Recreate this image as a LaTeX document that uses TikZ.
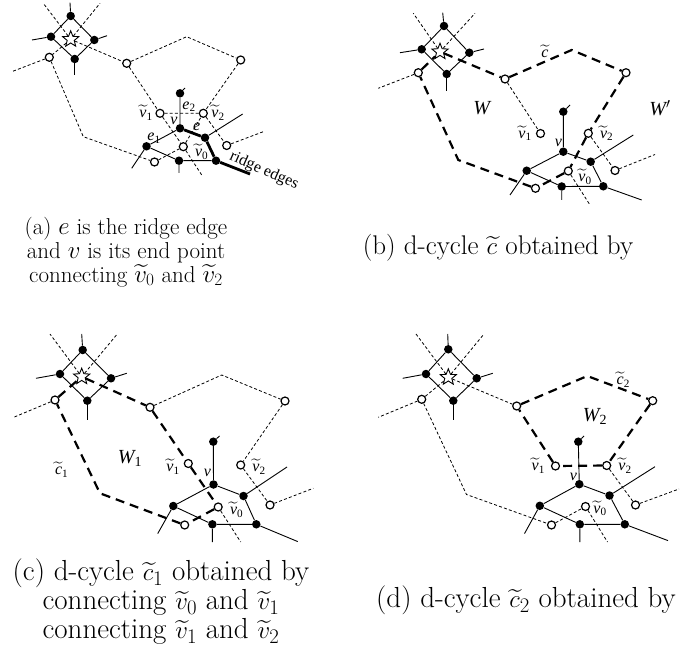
\documentclass[tikz,border=0pt]{standalone}
\usepackage{amsmath}
\usepackage{fontspec}
\newfontfamily\tms{Liberation Serif}
\usetikzlibrary{shapes.geometric}
\tikzset{
  dot/.style={circle,fill=black,inner sep=0pt,minimum size=8.5pt},
  hole/.style={circle,draw,fill=white,line width=1.2pt,inner sep=0pt,minimum size=8pt},
  sun/.style={star,star points=5,star point ratio=2.3,draw,fill=white,line width=0.9pt,inner sep=0pt,minimum size=17pt},
  edg/.style={line width=0.9pt},
  dual/.style={line width=0.8pt,dash pattern=on 3pt off 2.2pt},
  cyc/.style={line width=2.2pt,dash pattern=on 9pt off 6pt},
  ridge/.style={line width=2.8pt},
  lab/.style={inner sep=0pt,font=\tms\fontsize{16}{16}\selectfont},
  wlab/.style={inner sep=0pt,font=\tms\fontsize{20}{20}\selectfont},
  captxt/.style={align=center,font=\fontsize{#1}{#1}\selectfont}
}
\newcommand{\tv}[1]{$\widetilde{\text{\itshape v}}_{\text{#1}}$}
% primal edges shared by all four panels
\newcommand{\primal}[1]{%
  \draw[edg] (#1-dT)--(#1-dL)--(#1-dB)--(#1-dR)--(#1-dT);
  \foreach \k in {T,L,R,B} \draw[edg] (#1-d\k)--(#1-s\k);
  \draw[edg] (#1-tp)--(#1-tpx) (#1-tp)--(#1-v)--(#1-e1)--(#1-e1x)
    (#1-e1)--(#1-bm)--(#1-br)--(#1-brx) (#1-bm)--(#1-bmx)
    (#1-v)--(#1-rt)--(#1-br) (#1-rt)--(#1-rtx);}
\newcommand{\dualends}[1]{%
  \draw[dual] (#1-S)--(#1-fA) (#1-S)--(#1-fB) (#1-o1)--(#1-fC)
    (#1-w2)--(#1-o7)--(#1-fD) (#1-w0)--(#1-fE);}

\begin{document}
\begin{tikzpicture}[x=1pt,y=-1pt]
\useasboundingbox (0,0) rectangle (680,652);

% (a)
\begin{scope}
\node[sun] (a-S) at (70.7,39.3) {};
\node[dot] (a-dT) at (70.7,16) {};
\node[dot] (a-dL) at (51,36.7) {};
\node[dot] (a-dR) at (94.3,40) {};
\node[dot] (a-dB) at (74.7,59) {};
\coordinate (a-sT) at (70,2.7);
\coordinate (a-sL) at (32,40);
\coordinate (a-sR) at (107,35.7);
\coordinate (a-sB) at (74.7,75);
\coordinate (a-fA) at (43.3,3.3);
\coordinate (a-fB) at (100,3.3);
\coordinate (a-fC) at (11.7,71.7);
\node[hole] (a-o1) at (49.3,57.3) {};
\node[hole] (a-o2) at (126.7,63.3) {};
\coordinate (a-k1) at (186.7,36.7);
\node[hole] (a-o3) at (240.7,60) {};
\coordinate (a-k2) at (83.3,136.7);
\node[hole] (a-o8) at (154.5,162) {};
\node[hole] (a-w1) at (160,113.3) {};
\node[hole] (a-w2) at (203.3,113.3) {};
\node[hole] (a-w0) at (183.3,146.7) {};
\node[hole] (a-o7) at (226.7,145.5) {};
\coordinate (a-fD) at (263.3,131.7);
\coordinate (a-fE) at (201.7,175);
\node[dot] (a-tp) at (180,93.3) {};
\coordinate (a-tpx) at (185,88);
\node[dot] (a-v) at (180,128.3) {};
\node[dot] (a-rt) at (205,137.7) {};
\coordinate (a-rtx) at (242.7,114);
\node[dot] (a-e1) at (146.5,146.3) {};
\coordinate (a-e1x) at (131.7,168.3);
\node[dot] (a-bm) at (179,160.7) {};
\coordinate (a-bmx) at (179,173);
\node[dot] (a-br) at (216,160.7) {};
\coordinate (a-brx) at (250,174);
\primal{a}
\dualends{a}
\draw[dual] (a-S)--(a-o1)--(a-k2)--(a-o8)--(a-w0) (a-S)--(a-o2)--(a-k1)--(a-o3)--(a-w2)
  (a-o2)--(a-w1)--(a-w0)--(a-w2)--(a-w1);
\draw[ridge] (a-v)--(a-rt)--(a-br)--(a-brx);
\node[lab] (a-l1) at (146,113) {\tv1};
\node[lab] (a-le2) at (189,106.7) {$\text{\itshape e}_{\text{2}}$};
\node[lab] (a-l2) at (218,113) {\tv2};
\node[lab] (a-lv) at (174,121) {\itshape v};
\node[lab] (a-le) at (196.7,126.7) {\itshape e};
\node[lab] (a-le1) at (154,138.3) {$\text{\itshape e}_{\text{1}}$};
\node[lab] (a-l0) at (201.7,151.7) {\tv0};
\node[lab,rotate=-24] (a-lr) at (264,171) {ridge edges};
\end{scope}

% (b)
\begin{scope}
\node[sun] (b-S) at (440,51.7) {};
\node[dot] (b-dT) at (444,26) {};
\node[dot] (b-dL) at (421.7,49.3) {};
\node[dot] (b-dR) at (469.3,52.7) {};
\node[dot] (b-dB) at (446.7,74) {};
\coordinate (b-sT) at (442.7,12.7);
\coordinate (b-sL) at (400,52.7);
\coordinate (b-sR) at (484,49);
\coordinate (b-sB) at (446.7,90.7);
\coordinate (b-fA) at (413.3,13.3);
\coordinate (b-fB) at (475,13.3);
\coordinate (b-fC) at (378.3,88.3);
\node[hole] (b-o1) at (418.3,72.7) {};
\node[hole] (b-o2) at (505,79) {};
\coordinate (b-k1) at (571.7,50);
\node[hole] (b-o3) at (626,72.7) {};
\coordinate (b-k2) at (458.3,160);
\node[hole] (b-o8) at (535.5,188.3) {};
\node[hole] (b-w1) at (540.5,133.5) {};
\node[hole] (b-w2) at (588.3,133.3) {};
\node[hole] (b-w0) at (568.3,171) {};
\node[hole] (b-o7) at (615,170.5) {};
\coordinate (b-fD) at (655,154.5);
\coordinate (b-fE) at (590,205);
\node[dot] (b-tp) at (563.3,111.7) {};
\coordinate (b-tpx) at (570,105);
\node[dot] (b-v) at (563.3,151.7) {};
\node[dot] (b-rt) at (590.7,161.7) {};
\coordinate (b-rtx) at (633.3,135);
\node[dot] (b-e1) at (526.7,170.7) {};
\coordinate (b-e1x) at (510,195);
\node[dot] (b-bm) at (561.7,186.5) {};
\coordinate (b-bmx) at (561.7,200);
\node[dot] (b-br) at (603.3,186.3) {};
\coordinate (b-brx) at (641.7,200);
\primal{b}
\dualends{b}
\draw[dual] (b-o2)--(b-w1);
\draw[cyc] (b-o1)--(b-S)--(b-o2)--(b-k1)--(b-o3)--(b-w2)--(b-w0)--(b-o8)--(b-k2)--(b-o1);
\node[lab] (b-lc) at (545,51) {$\widetilde{\text{\itshape c}}$};
\node[wlab] (b-lW) at (481.7,108.3) {\itshape W};
\node[wlab] (b-lW') at (660,108.3) {\itshape W$'$};
\node[lab] (b-l1) at (525,133.3) {\tv1};
\node[lab] (b-lv) at (558.3,143.3) {\itshape v};
\node[lab] (b-l2) at (606.7,133.3) {\tv2};
\node[lab] (b-l0) at (585,176.7) {\tv0};
\end{scope}

% (c)
\begin{scope}
\node[sun] (c-S) at (81.7,376.7) {};
\node[dot] (c-dT) at (82.7,350) {};
\node[dot] (c-dL) at (60,374) {};
\node[dot] (c-dR) at (111,378.3) {};
\node[dot] (c-dB) at (87.3,400.7) {};
\coordinate (c-sT) at (81.7,334);
\coordinate (c-sL) at (36,378.3);
\coordinate (c-sR) at (126.7,373.3);
\coordinate (c-sB) at (87.3,420);
\coordinate (c-fA) at (50,334);
\coordinate (c-fB) at (117.3,334);
\coordinate (c-fC) at (12.7,417.7);
\node[hole] (c-o1) at (55,400) {};
\node[hole] (c-o2) at (150,407.3) {};
\coordinate (c-k1) at (221.7,375);
\node[hole] (c-o3) at (285,401) {};
\coordinate (c-k2) at (100,493.3);
\node[hole] (c-o8) at (184.7,525) {};
\node[hole] (c-w1) at (188.3,463.5) {};
\node[hole] (c-w2) at (240.7,465) {};
\node[hole] (c-w0) at (218.2,507) {};
\node[hole] (c-o7) at (270,505) {};
\coordinate (c-fD) at (313.3,488.3);
\coordinate (c-fE) at (240.7,542);
\node[dot] (c-tp) at (213.3,441.7) {};
\coordinate (c-tpx) at (219.5,436);
\node[dot] (c-v) at (213.5,484.5) {};
\node[dot] (c-rt) at (243.5,496) {};
\coordinate (c-rtx) at (287,467);
\node[dot] (c-e1) at (173.3,506) {};
\coordinate (c-e1x) at (157.7,533.6);
\node[dot] (c-bm) at (212.4,524.3) {};
\coordinate (c-bmx) at (212.4,542);
\node[dot] (c-br) at (256.3,524.3) {};
\coordinate (c-brx) at (297.8,541.6);
\primal{c}
\dualends{c}
\draw[dual] (c-o2)--(c-k1)--(c-o3)--(c-w2);
\draw[cyc] (c-o1)--(c-S)--(c-o2)--(c-w1)--(c-w0)--(c-o8)--(c-k2)--(c-o1);
\node[wlab] (c-lW) at (130,458.3) {$\text{\itshape W}_{\text{1}}$};
\node[lab] (c-lc) at (61.7,470) {$\widetilde{\text{\itshape c}}_{\text{1}}$};
\node[lab] (c-l1) at (173,466.7) {\tv1};
\node[lab] (c-lv) at (207.3,473.3) {\itshape v};
\node[lab] (c-l2) at (259,466.7) {\tv2};
\node[lab] (c-l0) at (236.7,510) {\tv0};
\end{scope}

% (d)
\begin{scope}
\node[sun] (d-S) at (448.3,377.3) {};
\node[dot] (d-dT) at (448.3,349.3) {};
\node[dot] (d-dL) at (426,374) {};
\node[dot] (d-dR) at (476.7,378.3) {};
\node[dot] (d-dB) at (453.3,400.7) {};
\coordinate (d-sT) at (447.7,334);
\coordinate (d-sL) at (402.7,378.3);
\coordinate (d-sR) at (492.7,373.3);
\coordinate (d-sB) at (453.3,420);
\coordinate (d-fA) at (416,334);
\coordinate (d-fB) at (484,334);
\coordinate (d-fC) at (378.3,417.3);
\node[hole] (d-o1) at (421.7,399.3) {};
\node[hole] (d-o2) at (516.7,406) {};
\coordinate (d-k1) at (587.3,376);
\node[hole] (d-o3) at (652.7,400.7) {};
\coordinate (d-k2) at (466.5,494.5);
\node[hole] (d-o8) at (551.5,525) {};
\node[hole] (d-w1) at (555.5,466) {};
\node[hole] (d-w2) at (606.7,465.5) {};
\node[hole] (d-w0) at (585.5,506.5) {};
\node[hole] (d-o7) at (635.5,505) {};
\coordinate (d-fD) at (679,489);
\coordinate (d-fE) at (607.5,542);
\node[dot] (d-tp) at (578.3,441.7) {};
\coordinate (d-tpx) at (584,436);
\node[dot] (d-v) at (579.3,484.2) {};
\node[dot] (d-rt) at (609.5,495.5) {};
\coordinate (d-rtx) at (655,466.7);
\node[dot] (d-e1) at (539.8,505.8) {};
\coordinate (d-e1x) at (524.5,533.6);
\node[dot] (d-bm) at (579.8,524.3) {};
\coordinate (d-bmx) at (579.8,542);
\node[dot] (d-br) at (624.8,524.3) {};
\coordinate (d-brx) at (668,540.6);
\primal{d}
\dualends{d}
\draw[dual] (d-S)--(d-o1)--(d-k2)--(d-o8)--(d-w0) (d-S)--(d-o2);
\draw[cyc] (d-o2)--(d-k1)--(d-o3)--(d-w2)--(d-w1)--(d-o2);
\node[lab] (d-lc) at (623.3,380) {$\widetilde{\text{\itshape c}}_{\text{2}}$};
\node[wlab] (d-lW) at (595,416.7) {$\text{\itshape W}_{\text{2}}$};
\node[lab] (d-l1) at (538.3,466) {\tv1};
\node[lab] (d-lv) at (573.3,476.7) {\itshape v};
\node[lab] (d-l2) at (625,466) {\tv2};
\node[lab] (d-l0) at (600,508.3) {\tv0};
\end{scope}

% captions
\node[captxt=23] (capa) at (126,252) {(a) $e$ is the ridge edge\\[1pt]and $v$ is its end point\\[1pt]connecting $\widetilde{v}_0$ and $\widetilde{v}_2$};
\node[captxt=27] (capb) at (498,248) {(b) d-cycle $\widetilde{c}$ obtained by};
\node[captxt=29] (capc) at (161,602) {(c) d-cycle $\widetilde{c}_1$ obtained by\\connecting $\widetilde{v}_0$ and $\widetilde{v}_1$\\connecting $\widetilde{v}_1$ and $\widetilde{v}_2$};
\node[captxt=29] (capd) at (526,600) {(d) d-cycle $\widetilde{c}_2$ obtained by};
\end{tikzpicture}
\end{document}
